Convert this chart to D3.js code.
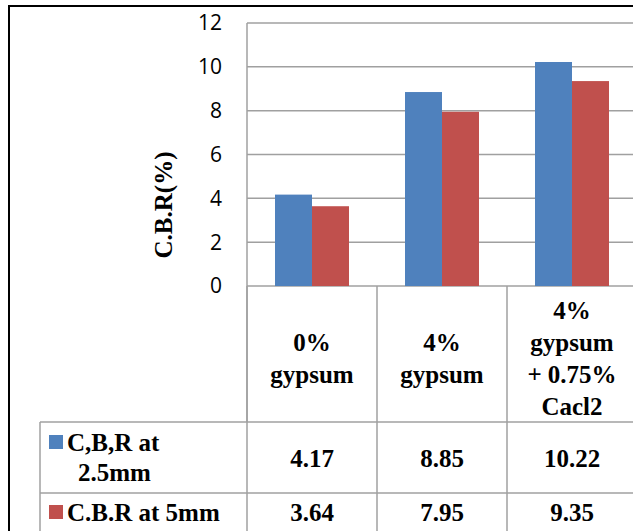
<!DOCTYPE html>
<html><head><meta charset="utf-8">
<script src="https://cdn.jsdelivr.net/npm/d3@7"></script>
<style>body{margin:0;background:#fff} .serif{font-family:"Liberation Serif","DejaVu Serif",serif;font-weight:bold}</style>
</head><body><div class="chart"></div>
<script>
let categories = [['0%', 'gypsum'], ['4%', 'gypsum'], ['4%', 'gypsum', '+ 0.75%', 'Cacl2']];
let seriesNames = [['C,B,R at', '2.5mm'], ['C.B.R at 5mm']];
let series1 = [4.17, 8.85, 10.22];
let series2 = [3.64, 7.95, 9.35];
let colors = ['#4f81bd', '#c0504d'];
let yTicks = [0, 2, 4, 6, 8, 10, 12];

let fullWidth = 633, fullHeight = 531;
let margin = {top: 23, left: 247};
let plotRight = 636, plotBottom = 286;

let svg = d3.select('.chart').append('svg')
  .attr('width', fullWidth).attr('height', fullHeight);

// outer frame
svg.append('path').attr('d', `M9,${fullHeight + 2}V6H${fullWidth + 2}`)
  .attr('fill', 'none').attr('stroke', '#000').attr('stroke-width', 2);

let x = d3.scaleBand().domain(d3.range(categories.length))
  .range([margin.left, margin.left + 3 * 130]);
let xInner = d3.scaleBand().domain([0, 1]).range([28, x.bandwidth() - 28]);

let y = d3.scaleLinear().domain([0, 12]).range([plotBottom, margin.top]);

let grid = '#a0a0a0';
svg.append('g').selectAll('line').data(yTicks).join('line')
  .attr('x1', margin.left).attr('x2', plotRight)
  .attr('y1', d => y(d)).attr('y2', d => y(d))
  .attr('stroke', grid).attr('stroke-width', 1.5);
svg.append('line').attr('x1', margin.left).attr('x2', margin.left)
  .attr('y1', margin.top).attr('y2', 422).attr('stroke', grid).attr('stroke-width', 1.5);

svg.append('g').selectAll('text').data(yTicks).join('text')
  .attr('x', 222).attr('y', d => y(d)).attr('dy', '0.35em')
  .attr('text-anchor', 'end').style('font-family', 'Open Sans, sans-serif')
  .style('font-size', '21px').text(d => d);

svg.append('text').attr('class', 'serif').attr('transform', 'translate(172,205) rotate(-90)')
  .attr('text-anchor', 'middle').style('font-size', '25px').text('C.B.R(%)');

[series1, series2].forEach((s, si) => {
  svg.append('g').selectAll('rect').data(s).join('rect')
    .attr('x', (d, i) => x(i) + xInner(si))
    .attr('width', xInner.bandwidth())
    .attr('y', d => y(d)).attr('height', d => y(0) - y(d))
    .attr('fill', colors[si]);
});

// data table
let rowTops = [plotBottom, 422, 493, 540];
let tableLeft = 40;
let tbl = svg.append('g').attr('stroke', grid).attr('stroke-width', 1.5);
rowTops.slice(1).forEach(r => tbl.append('line').attr('x1', tableLeft)
  .attr('x2', plotRight).attr('y1', r).attr('y2', r));
tbl.append('line').attr('x1', tableLeft).attr('x2', tableLeft).attr('y1', 422).attr('y2', 540);
d3.range(categories.length + 1).forEach(i => {
  let xx = margin.left + i * x.bandwidth();
  tbl.append('line').attr('x1', xx).attr('x2', xx).attr('y1', plotBottom).attr('y2', 540);
});

let font = s => s.attr('class', 'serif').style('font-size', '25px').attr('text-anchor', 'middle');

categories.forEach((lines, i) => {
  let cx = x(i) + x.bandwidth() / 2;
  let cy = (plotBottom + 422) / 2 + 6;
  lines.forEach((t, k) => svg.append('text').call(font)
    .attr('x', cx).attr('y', cy + (k - (lines.length - 1) / 2) * 32 + 7).text(t));
});

[series1, series2].forEach((s, si) => {
  let cy = (rowTops[si + 1] + Math.min(rowTops[si + 2], 531)) / 2;
  s.forEach((v, i) => svg.append('text').call(font)
    .attr('x', x(i) + x.bandwidth() / 2).attr('y', cy + 9).text(v.toFixed(2)));
  svg.append('rect').attr('x', 49).attr('y', (si === 0 ? 435 : 505)).attr('width', 14).attr('height', 14)
    .attr('fill', colors[si]);
  seriesNames[si].forEach((t, k) => svg.append('text').call(font).attr('text-anchor', 'start')
    .attr('x', k === 0 ? 67 : 78).attr('y', (si === 0 ? 451 : 521) + k * 30).text(t));
});
</script></body></html>
